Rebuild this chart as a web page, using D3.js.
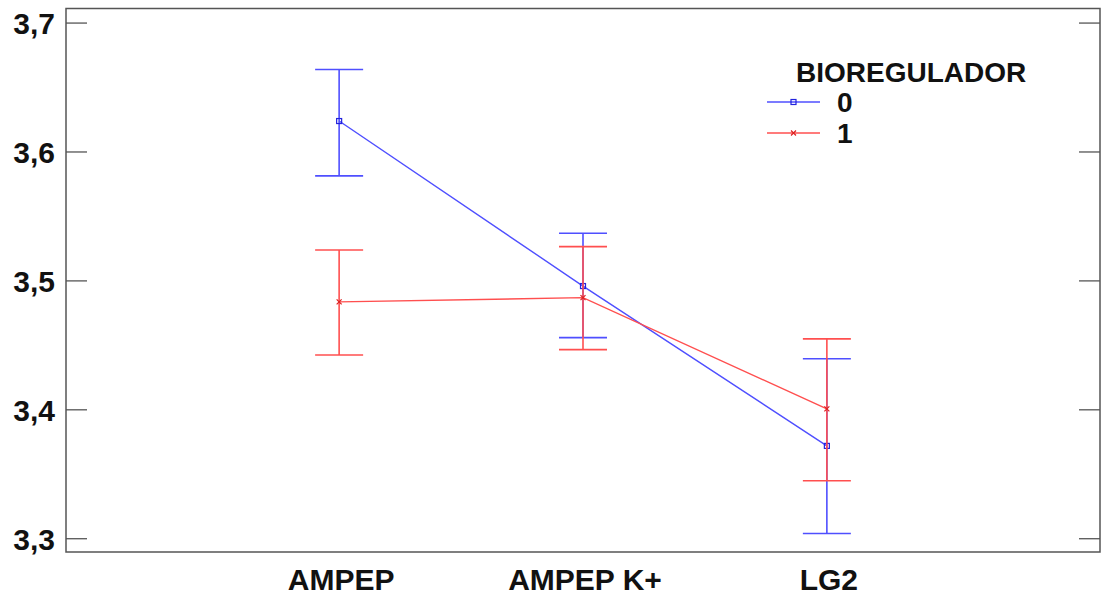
<!DOCTYPE html>
<html>
<head>
<meta charset="utf-8">
<script src="https://cdn.jsdelivr.net/npm/d3@7"></script>
<style>
    body { margin: 0; background: #fff; }
    svg { display: block; font-family: "Liberation Sans", Arial, sans-serif; }
    .frame { fill: none; stroke: #555; stroke-width: 1.5; }
    .tick-mark { stroke: #555; stroke-width: 1.3; }
    .label { font-weight: bold; fill: #111; }
</style>
</head>
<body>
<svg id="chart" width="1101" height="596"></svg>
<script>
// Data
const categories = ['AMPEP', 'AMPEP K+', 'LG2'];
const groups = ['0', '1'];
const yTicks = [3.3, 3.4, 3.5, 3.6, 3.7];

// Means and interval bounds, one entry per category
const mean0 = [3.624, 3.496, 3.372],
    low0 = [3.5815, 3.456, 3.304],
    high0 = [3.664, 3.537, 3.4396];
const mean1 = [3.4837, 3.487, 3.4007],
    low1 = [3.4425, 3.4467, 3.345],
    high1 = [3.524, 3.5266, 3.455];

const colors = { '0': '#4f4fff', '1': '#ff4f4f' };

/**
 * Visual configs.
 */
const plot = { left: 66, top: 8.5, right: 1100, bottom: 552 };

const svg = d3.select('#chart');

const xScale = d3.scalePoint()
    .domain(categories)
    .range([plot.left, plot.right])
    .padding(1.12);
const yScale = d3.scaleLinear()
    .domain([3.2897, 3.7113])
    .range([plot.bottom, plot.top]);

const series = [
    { key: '0', mean: mean0, low: low0, high: high0 },
    { key: '1', mean: mean1, low: low1, high: high1 }
];

// Frame
svg.append('rect').attr('class', 'frame')
    .attr('x', plot.left).attr('y', plot.top)
    .attr('width', plot.right - plot.left)
    .attr('height', plot.bottom - plot.top);

// Y ticks, inward on both sides
const tickLen = 21;
const yAxis = svg.append('g').attr('class', 'y-axis');
yTicks.forEach(t => {
    const y = yScale(t);
    yAxis.append('line').attr('class', 'tick-mark')
        .attr('x1', plot.left).attr('x2', plot.left + tickLen)
        .attr('y1', y).attr('y2', y);
    yAxis.append('line').attr('class', 'tick-mark')
        .attr('x1', plot.right - tickLen).attr('x2', plot.right)
        .attr('y1', y).attr('y2', y);
    yAxis.append('text').attr('class', 'label')
        .attr('x', 55).attr('y', y)
        .attr('dy', '0.36em')
        .attr('text-anchor', 'end')
        .style('font-size', '30px')
        .text(d3.format('.1f')(t).replace('.', ','));
});

// X labels
svg.append('g').attr('class', 'x-axis')
    .selectAll('text').data(categories)
    .enter().append('text').attr('class', 'label')
        .attr('x', d => xScale(d) + 2)
        .attr('y', 590)
        .attr('text-anchor', 'middle')
        .style('font-size', '30px')
        .text(d => d);

// Series
const capHalf = 24;
series.forEach(s => {
    const g = svg.append('g').attr('class', 'series').attr('stroke', colors[s.key]);

    // Error bars
    categories.forEach((c, i) => {
        const x = xScale(c);
        g.append('line').attr('x1', x).attr('x2', x)
            .attr('y1', yScale(s.low[i])).attr('y2', yScale(s.high[i]))
            .attr('stroke-width', 1.6);
        [s.low[i], s.high[i]].forEach(v => {
            g.append('line')
                .attr('x1', x - capHalf).attr('x2', x + capHalf)
                .attr('y1', yScale(v)).attr('y2', yScale(v))
                .attr('stroke-width', 1.6);
        });
    });

    // Mean line
    const line = d3.line()
        .x((d, i) => xScale(categories[i]))
        .y(d => yScale(d));
    g.append('path').datum(s.mean)
        .attr('d', line)
        .attr('fill', 'none')
        .attr('stroke-width', 1.4);

    // Markers
    s.mean.forEach((m, i) => {
        const x = xScale(categories[i]), y = yScale(m);
        if (s.key === '0') {
            g.append('rect').attr('x', x - 2.5).attr('y', y - 2.5)
                .attr('width', 5).attr('height', 5)
                .attr('fill', 'none').attr('stroke', '#2222dd').attr('stroke-width', 1.2);
        } else {
            g.append('path')
                .attr('d', `M${x - 2.5},${y - 2.5}L${x + 2.5},${y + 2.5}M${x - 2.5},${y + 2.5}L${x + 2.5},${y - 2.5}`)
                .attr('stroke', '#dd2222').attr('stroke-width', 1.2);
        }
    });
});

// Legend
const legend = svg.append('g').attr('class', 'legend');
legend.append('text').attr('class', 'label')
    .attr('x', 796).attr('y', 82)
    .style('font-size', '28px')
    .text('BIOREGULADOR');
groups.forEach((k, i) => {
    const y = 102 + i * 31;
    legend.append('line')
        .attr('x1', 767).attr('x2', 820)
        .attr('y1', y).attr('y2', y)
        .attr('stroke', colors[k]).attr('stroke-width', 1.4);
    if (k === '0') {
        legend.append('rect').attr('x', 791).attr('y', y - 2.5)
            .attr('width', 5).attr('height', 5)
            .attr('fill', 'none').attr('stroke', '#2222dd').attr('stroke-width', 1.2);
    } else {
        legend.append('path')
            .attr('d', `M791,${y - 2.5}L796,${y + 2.5}M791,${y + 2.5}L796,${y - 2.5}`)
            .attr('stroke', '#dd2222').attr('stroke-width', 1.2);
    }
    legend.append('text').attr('class', 'label')
        .attr('x', 837).attr('y', y)
        .attr('dy', '0.36em')
        .style('font-size', '28px')
        .text(k);
});
</script>
</body>
</html>
